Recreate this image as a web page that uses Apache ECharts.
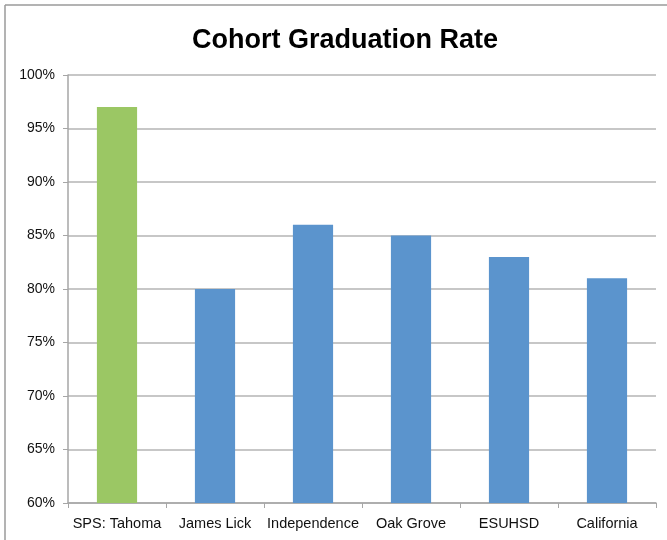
<!DOCTYPE html>
<html>
<head>
<meta charset="UTF-8">
<script src="https://cdn.jsdelivr.net/npm/echarts@6/dist/echarts.min.js"></script>
<title>Cohort Graduation Rate</title>
<style>
  html, body { margin: 0; padding: 0; background: #fff; }
</style>
</head>
<body>
<div id="main" style="width: 667px; height: 540px;"></div>
<script type="text/javascript">
// data
var schools = ['SPS: Tahoma', 'James Lick', 'Independence', 'Oak Grove', 'ESUHSD', 'California'];
var rates = [97, 80, 86, 85, 83, 81];
var barColors = ['#9bc764', '#5b94cd', '#5b94cd', '#5b94cd', '#5b94cd', '#5b94cd'];

var myChart = echarts.init(document.getElementById('main'));

var option = {
  animation: false,
  backgroundColor: '#fff',
  title: {
    text: 'Cohort Graduation Rate',
    left: 187,
    top: 22,
    textStyle: { fontFamily: 'Liberation Sans', fontSize: 27, fontWeight: 'bold', color: '#000' }
  },
  graphic: [
    { type: 'line', shape: { x1: 5, y1: 5, x2: 667, y2: 5 }, style: { stroke: '#9a9a9a', lineWidth: 1.5 } },
    { type: 'line', shape: { x1: 5, y1: 5, x2: 5, y2: 540 }, style: { stroke: '#9a9a9a', lineWidth: 1.5 } }
  ],
  grid: { left: 68, right: 11, top: 75, bottom: 37 },
  xAxis: {
    type: 'category',
    data: schools,
    axisLine: { lineStyle: { color: '#a6a6a6', width: 1.5 } },
    axisTick: { show: true, alignWithLabel: false, length: 5, lineStyle: { color: '#a6a6a6' } },
    axisLabel: { color: '#111', fontFamily: 'Liberation Sans', fontSize: 14.5, margin: 13, interval: 0 }
  },
  yAxis: {
    type: 'value',
    min: 60,
    max: 100,
    interval: 5,
    axisLine: { show: true, lineStyle: { color: '#a6a6a6', width: 1.5 } },
    axisTick: { show: true, length: 5, lineStyle: { color: '#a6a6a6' } },
    axisLabel: { color: '#111', fontFamily: 'Liberation Sans', fontSize: 14, margin: 13, formatter: '{value}%' },
    splitLine: { lineStyle: { color: '#b4b4b4', width: 1.5 } }
  },
  series: [{
    type: 'bar',
    data: rates.map(function (v, i) { return { value: v, itemStyle: { color: barColors[i] } }; }),
    barWidth: '41%'
  }]
};
myChart.setOption(option);
</script>
</body>
</html>
